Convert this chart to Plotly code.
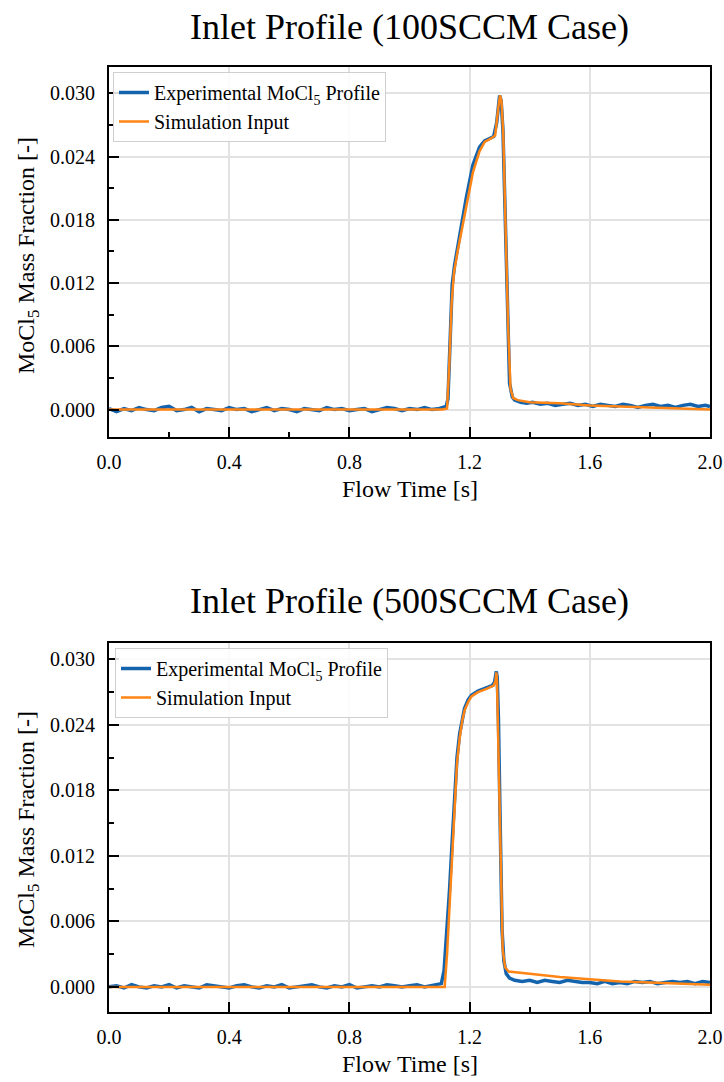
import plotly.graph_objects as go

# ---------------- DATA ----------------
# 100 SCCM case: experimental MoCl5 profile
t100_exp = [
    0.000, 0.025, 0.050, 0.075, 0.100, 0.125, 0.150, 0.175, 0.200, 0.225,
    0.250, 0.275, 0.300, 0.325, 0.350, 0.375, 0.400, 0.425, 0.450, 0.475,
    0.500, 0.525, 0.550, 0.575, 0.600, 0.625, 0.650, 0.675, 0.700, 0.725,
    0.750, 0.775, 0.800, 0.825, 0.850, 0.875, 0.900, 0.925, 0.950, 0.975,
    1.000, 1.025, 1.050, 1.075, 1.100, 1.115, 1.122, 1.128, 1.135, 1.142,
    1.150, 1.167, 1.189, 1.211, 1.233, 1.250, 1.265, 1.280, 1.290, 1.300,
    1.305, 1.311, 1.317, 1.322, 1.328, 1.333, 1.342, 1.350, 1.370, 1.390,
    1.410, 1.435, 1.460, 1.485, 1.510, 1.535, 1.560, 1.585, 1.610, 1.635,
    1.660, 1.685, 1.710, 1.735, 1.760, 1.785, 1.810, 1.835, 1.860, 1.885,
    1.910, 1.935, 1.960, 1.985, 2.000]
y100_exp = [
    0.0001, -0.0002, 0.0001, -0.0001, 0.0002, 0.0000, -0.0001, 0.0002, 0.0003, -0.0001,
    0.0000, 0.0002, -0.0002, 0.0001, 0.0000, -0.0001, 0.0002, 0.0000, 0.0001, -0.0002,
    0.0000, 0.0002, -0.0001, 0.0001, 0.0000, -0.0002, 0.0001, 0.0000, -0.0001, 0.0002,
    0.0000, 0.0001, -0.0001, 0.0000, 0.0001, -0.0002, 0.0000, 0.0002, 0.0001, -0.0001,
    0.0001, 0.0000, 0.0002, 0.0000, 0.0001, 0.0002, 0.0003, 0.0010, 0.0065, 0.0118,
    0.0137, 0.0166, 0.0201, 0.0232, 0.0249, 0.0255, 0.0257, 0.0259, 0.0272, 0.0298,
    0.0293, 0.0265, 0.0200, 0.0140, 0.0072, 0.0025, 0.0012, 0.0009, 0.0007, 0.0006,
    0.0007, 0.0005, 0.0006, 0.0004, 0.0005, 0.0006, 0.0004, 0.0005, 0.0003, 0.0005,
    0.0004, 0.0003, 0.0005, 0.0004, 0.0002, 0.0004, 0.0005, 0.0003, 0.0004, 0.0002,
    0.0004, 0.0005, 0.0003, 0.0004, 0.0003]

# 100 SCCM case: simulation input
t100_sim = [0.000, 0.200, 0.400, 0.600, 0.800, 1.000, 1.110, 1.125, 1.132, 1.140,
            1.148, 1.160, 1.175, 1.189, 1.211, 1.233, 1.250, 1.270, 1.285, 1.295,
            1.301, 1.306, 1.312, 1.320, 1.328, 1.336, 1.345, 1.360, 1.400, 1.500,
            1.600, 1.700, 1.800, 1.900, 2.000]
y100_sim = [0.0000, 0.0000, 0.0000, 0.0000, 0.0000, 0.0000, 0.0000, 0.0001, 0.0040, 0.0100,
            0.0130, 0.0150, 0.0172, 0.0193, 0.0225, 0.0245, 0.0254, 0.0257, 0.0260, 0.0285,
            0.0298, 0.0293, 0.0262, 0.0170, 0.0080, 0.0020, 0.0011, 0.0009, 0.0007, 0.0006,
            0.0004, 0.0003, 0.0002, 0.0001, 0.0000]

# 500 SCCM case: experimental MoCl5 profile
t500_exp = [
    0.000, 0.025, 0.050, 0.075, 0.100, 0.125, 0.150, 0.175, 0.200, 0.225,
    0.250, 0.275, 0.300, 0.325, 0.350, 0.375, 0.400, 0.425, 0.450, 0.475,
    0.500, 0.525, 0.550, 0.575, 0.600, 0.625, 0.650, 0.675, 0.700, 0.725,
    0.750, 0.775, 0.800, 0.825, 0.850, 0.875, 0.900, 0.925, 0.950, 0.975,
    1.000, 1.025, 1.050, 1.075, 1.095, 1.106, 1.115, 1.125, 1.133, 1.142,
    1.150, 1.158, 1.167, 1.175, 1.183, 1.195, 1.206, 1.228, 1.256, 1.275,
    1.283, 1.289, 1.292, 1.296, 1.300, 1.304, 1.308, 1.314, 1.322, 1.333,
    1.350, 1.375, 1.400, 1.425, 1.450, 1.475, 1.500, 1.525, 1.550, 1.575,
    1.600, 1.625, 1.650, 1.675, 1.700, 1.725, 1.750, 1.775, 1.800, 1.825,
    1.850, 1.875, 1.900, 1.925, 1.950, 1.975, 2.000]
y500_exp = [
    0.0000, 0.0001, -0.0001, 0.0002, 0.0000, -0.0001, 0.0001, 0.0000, 0.0002, -0.0001,
    0.0001, 0.0000, -0.0001, 0.0002, 0.0001, 0.0000, -0.0001, 0.0001, 0.0002, 0.0000,
    -0.0001, 0.0001, 0.0000, 0.0002, -0.0001, 0.0000, 0.0001, 0.0002, 0.0000, -0.0001,
    0.0001, 0.0000, 0.0002, -0.0001, 0.0000, 0.0001, 0.0000, 0.0002, 0.0001, 0.0000,
    0.0001, 0.0002, 0.0000, 0.0001, 0.0002, 0.0003, 0.0015, 0.0050, 0.0088, 0.0133,
    0.0178, 0.0210, 0.0232, 0.0246, 0.0255, 0.0263, 0.0267, 0.0271, 0.0274, 0.0276,
    0.0279, 0.0289, 0.0283, 0.0245, 0.0178, 0.0102, 0.0052, 0.0024, 0.0012, 0.0008,
    0.0006, 0.0005, 0.0006, 0.0004, 0.0006, 0.0005, 0.0004, 0.0006, 0.0005, 0.0004,
    0.0004, 0.0003, 0.0005, 0.0003, 0.0004, 0.0003, 0.0005, 0.0004, 0.0005, 0.0003,
    0.0004, 0.0005, 0.0004, 0.0005, 0.0003, 0.0005, 0.0004]

# 500 SCCM case: simulation input
t500_sim = [0.000, 0.200, 0.400, 0.600, 0.800, 1.000, 1.100, 1.117, 1.125, 1.133,
            1.142, 1.150, 1.158, 1.167, 1.175, 1.183, 1.195, 1.206, 1.228, 1.256,
            1.280, 1.286, 1.289, 1.291, 1.295, 1.300, 1.305, 1.310, 1.318, 1.330,
            1.400, 1.500, 1.600, 1.700, 1.800, 1.900, 2.000]
y500_sim = [0.0000, 0.0000, 0.0000, 0.0000, 0.0000, 0.0000, 0.0000, 0.0000, 0.0030, 0.0075,
            0.0125, 0.0170, 0.0205, 0.0228, 0.0243, 0.0253, 0.0261, 0.0266, 0.0270, 0.0273,
            0.0276, 0.0280, 0.0288, 0.0281, 0.0225, 0.0150, 0.0080, 0.0035, 0.0018, 0.0014,
            0.0012, 0.0009, 0.0007, 0.0005, 0.0004, 0.0003, 0.0002]

titles = ["Inlet Profile (100SCCM Case)", "Inlet Profile (500SCCM Case)"]
exp_name = "Experimental MoCl<sub>5</sub> Profile"
sim_name = "Simulation Input"
x_title = "Flow Time [s]"
y_title = "MoCl<sub>5</sub> Mass Fraction [-]"

# ---------------- STYLE / LAYOUT ----------------
W, H = 724, 1082
FONT = "Liberation Serif, Times New Roman, serif"
BLUE = "#1463ad"
ORANGE = "#ff8514"

def px_x(p):
    return p / W

def px_y(p):
    return 1 - p / H

x_dom = [px_x(109), px_x(710)]
top_dom = [px_y(437), px_y(67)]
bot_dom = [px_y(1012), px_y(643)]

fig = go.Figure()

fig.add_trace(go.Scatter(x=t100_exp, y=y100_exp, mode="lines", name=exp_name,
                         line=dict(color=BLUE, width=3.5), xaxis="x", yaxis="y",
                         legend="legend"))
fig.add_trace(go.Scatter(x=t100_sim, y=y100_sim, mode="lines", name=sim_name,
                         line=dict(color=ORANGE, width=2.5), xaxis="x", yaxis="y",
                         legend="legend"))
fig.add_trace(go.Scatter(x=t500_exp, y=y500_exp, mode="lines", name=exp_name,
                         line=dict(color=BLUE, width=3.5), xaxis="x2", yaxis="y2",
                         legend="legend2"))
fig.add_trace(go.Scatter(x=t500_sim, y=y500_sim, mode="lines", name=sim_name,
                         line=dict(color=ORANGE, width=2.5), xaxis="x2", yaxis="y2",
                         legend="legend2"))

def xaxis_cfg(anchor):
    return dict(domain=x_dom, anchor=anchor, range=[0, 2], tick0=0, dtick=0.4,
                tickformat=".1f", ticks="inside", ticklen=10, tickwidth=2,
                tickcolor="black", showline=True, linecolor="black", linewidth=2,
                mirror=True, showgrid=True, gridcolor="#e2e2e2", gridwidth=1.5,
                zeroline=False, automargin=False, ticklabelstandoff=6,
                tickfont=dict(family=FONT, size=20, color="black"),
                minor=dict(dtick=0.2, tick0=0, ticks="inside", ticklen=5,
                           tickwidth=1.5, tickcolor="black", showgrid=False))

def yaxis_cfg(anchor, dom, rng):
    return dict(domain=dom, anchor=anchor, range=rng, tick0=0, dtick=0.006,
                tickformat=".3f", ticks="inside", ticklen=10, tickwidth=2,
                tickcolor="black", showline=True, linecolor="black", linewidth=2,
                mirror=True, showgrid=True, gridcolor="#e2e2e2", gridwidth=1.5,
                zeroline=False, automargin=False, ticklabelstandoff=8,
                tickfont=dict(family=FONT, size=20, color="black"),
                minor=dict(dtick=0.003, tick0=0, ticks="inside", ticklen=5,
                           tickwidth=1.5, tickcolor="black", showgrid=False))

legend_common = dict(xanchor="left", yanchor="top", bgcolor="rgba(255,255,255,0.85)",
                     bordercolor="#cfcfcf", borderwidth=1,
                     font=dict(family=FONT, size=20, color="black"),
                     tracegroupgap=0, itemwidth=30)

annotations = [
    dict(text=titles[0], x=px_x(409.5), y=px_y(27), xref="paper", yref="paper",
         showarrow=False, font=dict(family=FONT, size=36, color="black"),
         xanchor="center", yanchor="middle"),
    dict(text=titles[1], x=px_x(409.5), y=px_y(601), xref="paper", yref="paper",
         showarrow=False, font=dict(family=FONT, size=36, color="black"),
         xanchor="center", yanchor="middle"),
    dict(text=x_title, x=px_x(409.5), y=px_y(489), xref="paper", yref="paper",
         showarrow=False, font=dict(family=FONT, size=24, color="black"),
         xanchor="center", yanchor="middle"),
    dict(text=x_title, x=px_x(409.5), y=px_y(1064), xref="paper", yref="paper",
         showarrow=False, font=dict(family=FONT, size=24, color="black"),
         xanchor="center", yanchor="middle"),
    dict(text=y_title, x=px_x(28), y=px_y(256), xref="paper", yref="paper",
         showarrow=False, textangle=-90, font=dict(family=FONT, size=24, color="black"),
         xanchor="center", yanchor="middle"),
    dict(text=y_title, x=px_x(28), y=px_y(830), xref="paper", yref="paper",
         showarrow=False, textangle=-90, font=dict(family=FONT, size=24, color="black"),
         xanchor="center", yanchor="middle"),
]

fig.update_layout(
    width=W, height=H,
    margin=dict(l=0, r=0, t=0, b=0, pad=0),
    paper_bgcolor="white", plot_bgcolor="white",
    font=dict(family=FONT, color="black"),
    xaxis=xaxis_cfg("y"),
    yaxis=yaxis_cfg("x", top_dom, [-0.0026, 0.0325]),
    xaxis2=xaxis_cfg("y2"),
    yaxis2=yaxis_cfg("x2", bot_dom, [-0.0023, 0.0315]),
    legend=dict(x=px_x(113), y=px_y(72), **legend_common),
    legend2=dict(x=px_x(115), y=px_y(648), **legend_common),
    annotations=annotations,
    showlegend=True,
)

fig.write_html("out.html")
